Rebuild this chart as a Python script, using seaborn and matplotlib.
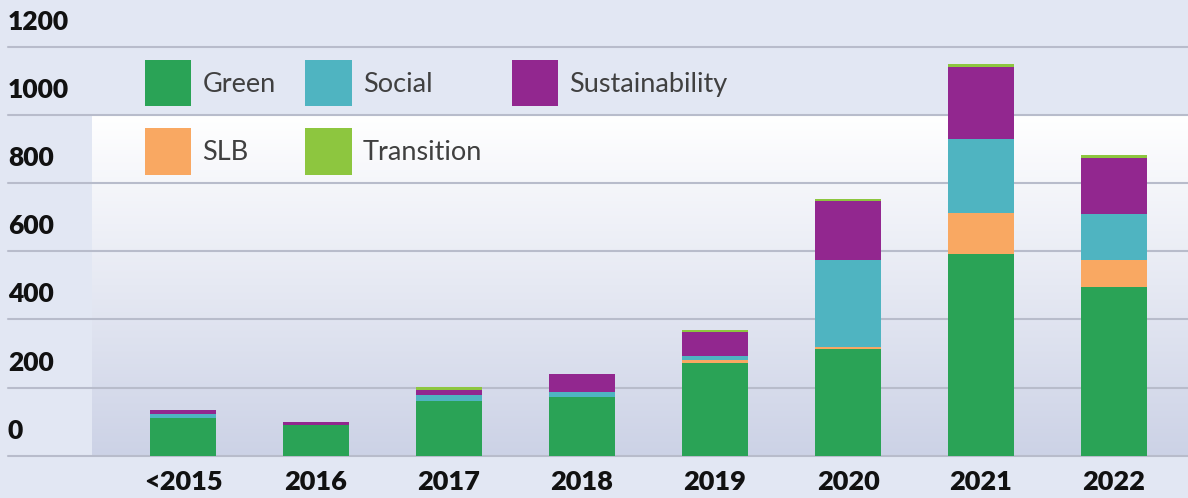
import numpy as np
import pandas as pd
import matplotlib
matplotlib.use("Agg")
import matplotlib.pyplot as plt
from matplotlib.patches import Patch
from matplotlib.colors import LinearSegmentedColormap
import seaborn as sns

# ---- data ----
years = ["<2015", "2016", "2017", "2018", "2019", "2020", "2021", "2022"]
green = [110, 89, 161, 172, 271, 312, 592, 496]
slb = [0, 0, 0, 0, 11, 6, 120, 78]
social = [13, 2, 16, 16, 11, 256, 218, 137]
sustainability = [10, 9, 17, 51, 70, 173, 212, 162]
transition = [0, 0, 8, 0, 7, 8, 8, 9]

series_names = ["Green", "SLB", "Social", "Sustainability", "Transition"]
series_values = [green, slb, social, sustainability, transition]
series_colors = ["#2aa356", "#f9a862", "#4fb4c1", "#92278f", "#8dc63f"]
legend_order = ["Green", "SLB", "Social", "Transition", "Sustainability"]

y_ticks = [0, 200, 400, 600, 800, 1000, 1200]

# ---- figure ----
W, H = 1188, 498
BG = "#e2e7f3"
sns.set_theme(style="white")
plt.rcParams["font.family"] = ["Lato", "DejaVu Sans"]

fig = plt.figure(figsize=(W / 100, H / 100), dpi=100, facecolor=BG)
base_px = 455.7
px_per_unit = (455.7 - 47) / 1200.0
ax = fig.add_axes([92 / W, 1 - base_px / H, (W - 92) / W, base_px / H])
ax.set_facecolor(BG)

xl = ((92 - 183) / 133.0, (W - 183) / 133.0)
ytop = base_px / px_per_unit

# gradient background of the plotting band (0..1000)
cmap = LinearSegmentedColormap.from_list("bg", ["#ccd2e6", "#e6e9f3", "#ffffff"])
grad = np.linspace(0, 1, 256).reshape(-1, 1)
ax.imshow(grad, extent=[xl[0], xl[1], 0, 1000], origin="lower", aspect="auto",
          cmap=cmap, zorder=0, interpolation="bicubic")

# gridlines (extend into the label column)
for v in y_ticks:
    ax.axhline(v, xmin=-(92 - 8) / (W - 92), xmax=1, color="#b8bccb", lw=1.5,
               clip_on=False, zorder=1)

# stacked bars
bottom = np.zeros(len(years))
for name, vals, col in zip(series_names, series_values, series_colors):
    df = pd.DataFrame({"year": years, "value": vals})
    sns.barplot(data=df, x="year", y="value", order=years, color=col,
                saturation=1, width=0.5, errorbar=None, bottom=bottom,
                ax=ax, zorder=3, linewidth=0)
    bottom = bottom + np.array(vals)

ax.set_xlim(*xl)
ax.set_ylim(0, ytop)
ax.set_xlabel("")
ax.set_ylabel("")
for s in ax.spines.values():
    s.set_visible(False)

# y tick labels sit between gridlines (offset upward)
off = 27 / px_per_unit
ax.set_yticks([v + off for v in y_ticks])
ax.set_yticklabels([str(v) for v in y_ticks], fontsize=19, fontweight="heavy",
                   color="#111111", ha="left")
ax.tick_params(axis="y", length=0, pad=(92 - 8) * 0.72)
ax.tick_params(axis="x", length=0, pad=10)
ax.set_xticks(range(len(years)))
ax.set_xticklabels(years, fontsize=19.5, fontweight="heavy", color="#111111")

# legend
color_of = dict(zip(series_names, series_colors))
handles = [Patch(facecolor=color_of[n], edgecolor="none") for n in legend_order]
fig.legend(handles, legend_order, loc="upper left",
           bbox_to_anchor=(145 / W, 1 - 60 / H), bbox_transform=fig.transFigure,
           ncol=3, frameon=False, borderpad=0, borderaxespad=0,
           handlelength=1.7, handleheight=2.25, handletextpad=0.42,
           columnspacing=1.1, labelspacing=0.82, fontsize=19.5,
           labelcolor="#404040")

fig.savefig("out.png", dpi=100, facecolor=BG)
